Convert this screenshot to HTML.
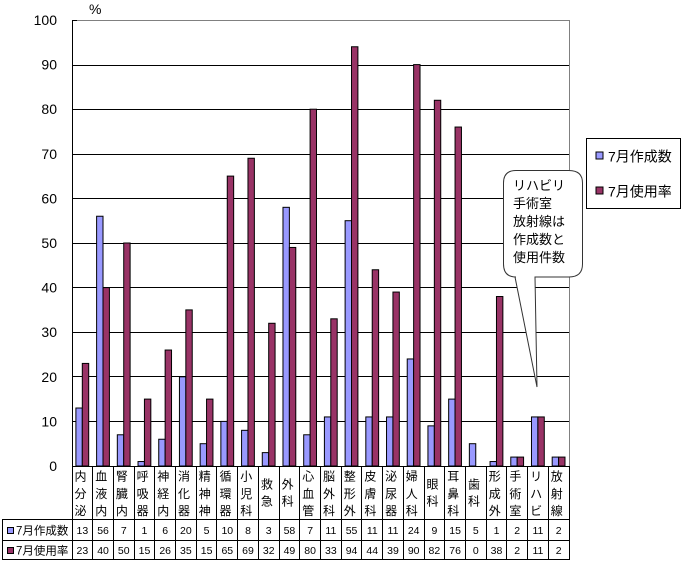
<!DOCTYPE html>
<html><head><meta charset="utf-8">
<style>
html,body{margin:0;padding:0;background:#fff;}
svg{display:block;}
text{font-family:"Liberation Sans","Noto Sans CJK JP",sans-serif;fill:#000;}
.yl{font-size:14px;text-anchor:end;}
.cl{font-size:12px;}
.nm{font-size:10.5px;text-anchor:middle;}
.b{fill:#9999FF;stroke:#000;stroke-width:1;}
.p{fill:#993366;stroke:#000;stroke-width:1;}
</style></head>
<body>
<svg width="682" height="562" viewBox="0 0 682 562" xmlns="http://www.w3.org/2000/svg">
<rect x="0" y="0" width="682" height="562" fill="#fff"/>
<!-- gridlines -->
<g stroke="#000" stroke-width="1">
<line x1="72" y1="421.5" x2="569" y2="421.5"/>
<line x1="72" y1="376.5" x2="569" y2="376.5"/>
<line x1="72" y1="332.5" x2="569" y2="332.5"/>
<line x1="72" y1="287.5" x2="569" y2="287.5"/>
<line x1="72" y1="243.5" x2="569" y2="243.5"/>
<line x1="72" y1="198.5" x2="569" y2="198.5"/>
<line x1="72" y1="154.5" x2="569" y2="154.5"/>
<line x1="72" y1="109.5" x2="569" y2="109.5"/>
<line x1="72" y1="65.5" x2="569" y2="65.5"/>
</g>
<line x1="72" y1="20.5" x2="569" y2="20.5" stroke="#808080" stroke-width="1"/>
<line x1="569.5" y1="20" x2="569.5" y2="466" stroke="#808080" stroke-width="1"/>
<line x1="72" y1="20.5" x2="77" y2="20.5" stroke="#000" stroke-width="1"/>
<!-- y labels -->
<text class="yl" x="57" y="25">100</text>
<text class="yl" x="57" y="69.6">90</text>
<text class="yl" x="57" y="114.2">80</text>
<text class="yl" x="57" y="158.8">70</text>
<text class="yl" x="57" y="203.4">60</text>
<text class="yl" x="57" y="248">50</text>
<text class="yl" x="57" y="292.6">40</text>
<text class="yl" x="57" y="337.2">30</text>
<text class="yl" x="57" y="381.8">20</text>
<text class="yl" x="57" y="426.4">10</text>
<text class="yl" x="57" y="471">0</text>
<text x="89" y="14" style="font-size:14px">%</text>

<!-- bars -->
<rect class="b" x="75.9" y="408.02" width="6.4" height="57.98"/><rect class="p" x="82.3" y="363.42" width="6.4" height="102.58"/>
<rect class="b" x="96.61" y="216.24" width="6.4" height="249.76"/><rect class="p" x="103.01" y="287.6" width="6.4" height="178.4"/>
<rect class="b" x="117.32" y="434.78" width="6.4" height="31.22"/><rect class="p" x="123.72" y="243" width="6.4" height="223"/>
<rect class="b" x="138.03" y="461.54" width="6.4" height="4.46"/><rect class="p" x="144.43" y="399.1" width="6.4" height="66.9"/>
<rect class="b" x="158.73" y="439.24" width="6.4" height="26.76"/><rect class="p" x="165.13" y="350.04" width="6.4" height="115.96"/>
<rect class="b" x="179.44" y="376.8" width="6.4" height="89.2"/><rect class="p" x="185.84" y="309.9" width="6.4" height="156.1"/>
<rect class="b" x="200.15" y="443.7" width="6.4" height="22.3"/><rect class="p" x="206.55" y="399.1" width="6.4" height="66.9"/>
<rect class="b" x="220.86" y="421.4" width="6.4" height="44.6"/><rect class="p" x="227.26" y="176.1" width="6.4" height="289.9"/>
<rect class="b" x="241.57" y="430.32" width="6.4" height="35.68"/><rect class="p" x="247.97" y="158.26" width="6.4" height="307.74"/>
<rect class="b" x="262.28" y="452.62" width="6.4" height="13.38"/><rect class="p" x="268.68" y="323.28" width="6.4" height="142.72"/>
<rect class="b" x="282.98" y="207.32" width="6.4" height="258.68"/><rect class="p" x="289.38" y="247.46" width="6.4" height="218.54"/>
<rect class="b" x="303.69" y="434.78" width="6.4" height="31.22"/><rect class="p" x="310.09" y="109.2" width="6.4" height="356.8"/>
<rect class="b" x="324.4" y="416.94" width="6.4" height="49.06"/><rect class="p" x="330.8" y="318.82" width="6.4" height="147.18"/>
<rect class="b" x="345.11" y="220.7" width="6.4" height="245.3"/><rect class="p" x="351.51" y="46.76" width="6.4" height="419.24"/>
<rect class="b" x="365.82" y="416.94" width="6.4" height="49.06"/><rect class="p" x="372.22" y="269.76" width="6.4" height="196.24"/>
<rect class="b" x="386.53" y="416.94" width="6.4" height="49.06"/><rect class="p" x="392.93" y="292.06" width="6.4" height="173.94"/>
<rect class="b" x="407.23" y="358.96" width="6.4" height="107.04"/><rect class="p" x="413.63" y="64.6" width="6.4" height="401.4"/>
<rect class="b" x="427.94" y="425.86" width="6.4" height="40.14"/><rect class="p" x="434.34" y="100.28" width="6.4" height="365.72"/>
<rect class="b" x="448.65" y="399.1" width="6.4" height="66.9"/><rect class="p" x="455.05" y="127.04" width="6.4" height="338.96"/>
<rect class="b" x="469.36" y="443.7" width="6.4" height="22.3"/>
<rect class="b" x="490.07" y="461.54" width="6.4" height="4.46"/><rect class="p" x="496.47" y="296.52" width="6.4" height="169.48"/>
<rect class="b" x="510.78" y="457.08" width="6.4" height="8.92"/><rect class="p" x="517.18" y="457.08" width="6.4" height="8.92"/>
<rect class="b" x="531.48" y="416.94" width="6.4" height="49.06"/><rect class="p" x="537.88" y="416.94" width="6.4" height="49.06"/>
<rect class="b" x="552.19" y="457.08" width="6.4" height="8.92"/><rect class="p" x="558.59" y="457.08" width="6.4" height="8.92"/>

<!-- axis and table lines -->
<g stroke="#000" stroke-width="1">
<line x1="72.5" y1="20" x2="72.5" y2="560"/>
<line x1="72" y1="466.5" x2="570" y2="466.5"/>
<line x1="2" y1="519.5" x2="570" y2="519.5"/>
<line x1="2" y1="540.5" x2="570" y2="540.5"/>
<line x1="2" y1="559.5" x2="570" y2="559.5"/>
<line x1="2.5" y1="519.5" x2="2.5" y2="560"/>
<line x1="92.5" y1="466" x2="92.5" y2="560"/>
<line x1="113.5" y1="466" x2="113.5" y2="560"/>
<line x1="134.5" y1="466" x2="134.5" y2="560"/>
<line x1="154.5" y1="466" x2="154.5" y2="560"/>
<line x1="175.5" y1="466" x2="175.5" y2="560"/>
<line x1="196.5" y1="466" x2="196.5" y2="560"/>
<line x1="216.5" y1="466" x2="216.5" y2="560"/>
<line x1="237.5" y1="466" x2="237.5" y2="560"/>
<line x1="258.5" y1="466" x2="258.5" y2="560"/>
<line x1="279.5" y1="466" x2="279.5" y2="560"/>
<line x1="299.5" y1="466" x2="299.5" y2="560"/>
<line x1="320.5" y1="466" x2="320.5" y2="560"/>
<line x1="341.5" y1="466" x2="341.5" y2="560"/>
<line x1="361.5" y1="466" x2="361.5" y2="560"/>
<line x1="382.5" y1="466" x2="382.5" y2="560"/>
<line x1="403.5" y1="466" x2="403.5" y2="560"/>
<line x1="424.5" y1="466" x2="424.5" y2="560"/>
<line x1="444.5" y1="466" x2="444.5" y2="560"/>
<line x1="465.5" y1="466" x2="465.5" y2="560"/>
<line x1="486.5" y1="466" x2="486.5" y2="560"/>
<line x1="506.5" y1="466" x2="506.5" y2="560"/>
<line x1="527.5" y1="466" x2="527.5" y2="560"/>
<line x1="548.5" y1="466" x2="548.5" y2="560"/>
<line x1="569.5" y1="466" x2="569.5" y2="560"/>
</g>

<!-- category labels -->
<g class="cl">
<text class="cl" x="74.5" y="480.5">内</text><text class="cl" x="74.5" y="498">分</text><text class="cl" x="74.5" y="515">泌</text>
<text class="cl" x="95.2" y="480.5">血</text><text class="cl" x="95.2" y="498">液</text><text class="cl" x="95.2" y="515">内</text>
<text class="cl" x="115.9" y="480.5">腎</text><text class="cl" x="115.9" y="498">臓</text><text class="cl" x="115.9" y="515">内</text>
<text class="cl" x="136.6" y="480.5">呼</text><text class="cl" x="136.6" y="498">吸</text><text class="cl" x="136.6" y="515">器</text>
<text class="cl" x="157.3" y="480.5">神</text><text class="cl" x="157.3" y="498">経</text><text class="cl" x="157.3" y="515">内</text>
<text class="cl" x="178.0" y="480.5">消</text><text class="cl" x="178.0" y="498">化</text><text class="cl" x="178.0" y="515">器</text>
<text class="cl" x="198.8" y="480.5">精</text><text class="cl" x="198.8" y="498">神</text><text class="cl" x="198.8" y="515">神</text>
<text class="cl" x="219.5" y="480.5">循</text><text class="cl" x="219.5" y="498">環</text><text class="cl" x="219.5" y="515">器</text>
<text class="cl" x="240.2" y="480.5">小</text><text class="cl" x="240.2" y="498">児</text><text class="cl" x="240.2" y="515">科</text>
<text class="cl" x="260.9" y="488.5">救</text><text class="cl" x="260.9" y="505.5">急</text>
<text class="cl" x="281.6" y="488.5">外</text><text class="cl" x="281.6" y="505.5">科</text>
<text class="cl" x="302.3" y="480.5">心</text><text class="cl" x="302.3" y="498">血</text><text class="cl" x="302.3" y="515">管</text>
<text class="cl" x="323.0" y="480.5">脳</text><text class="cl" x="323.0" y="498">外</text><text class="cl" x="323.0" y="515">科</text>
<text class="cl" x="343.7" y="480.5">整</text><text class="cl" x="343.7" y="498">形</text><text class="cl" x="343.7" y="515">外</text>
<text class="cl" x="364.4" y="480.5">皮</text><text class="cl" x="364.4" y="498">膚</text><text class="cl" x="364.4" y="515">科</text>
<text class="cl" x="385.1" y="480.5">泌</text><text class="cl" x="385.1" y="498">尿</text><text class="cl" x="385.1" y="515">器</text>
<text class="cl" x="405.8" y="480.5">婦</text><text class="cl" x="405.8" y="498">人</text><text class="cl" x="405.8" y="515">科</text>
<text class="cl" x="426.5" y="488.5">眼</text><text class="cl" x="426.5" y="505.5">科</text>
<text class="cl" x="447.3" y="480.5">耳</text><text class="cl" x="447.3" y="498">鼻</text><text class="cl" x="447.3" y="515">科</text>
<text class="cl" x="468.0" y="488.5">歯</text><text class="cl" x="468.0" y="505.5">科</text>
<text class="cl" x="488.7" y="480.5">形</text><text class="cl" x="488.7" y="498">成</text><text class="cl" x="488.7" y="515">外</text>
<text class="cl" x="509.4" y="480.5">手</text><text class="cl" x="509.4" y="498">術</text><text class="cl" x="509.4" y="515">室</text>
<text class="cl" x="530.1" y="480.5">リ</text><text class="cl" x="530.1" y="498">ハ</text><text class="cl" x="530.1" y="515">ビ</text>
<text class="cl" x="550.8" y="480.5">放</text><text class="cl" x="550.8" y="498">射</text><text class="cl" x="550.8" y="515">線</text>
</g>

<!-- table legend -->
<rect x="7.5" y="527.5" width="6" height="6" class="b"/>
<text x="16" y="534.5" style="font-size:11.5px">7月作成数</text>
<rect x="7.5" y="547.5" width="6" height="6" class="p"/>
<text x="16" y="554.5" style="font-size:11.5px">7月使用率</text>

<!-- table row 1 -->
<text class="nm" x="82.35" y="534">13</text>
<text class="nm" x="103.06" y="534">56</text>
<text class="nm" x="123.77" y="534">7</text>
<text class="nm" x="144.48" y="534">1</text>
<text class="nm" x="165.18" y="534">6</text>
<text class="nm" x="185.89" y="534">20</text>
<text class="nm" x="206.6" y="534">5</text>
<text class="nm" x="227.31" y="534">10</text>
<text class="nm" x="248.02" y="534">8</text>
<text class="nm" x="268.73" y="534">3</text>
<text class="nm" x="289.43" y="534">58</text>
<text class="nm" x="310.14" y="534">7</text>
<text class="nm" x="330.85" y="534">11</text>
<text class="nm" x="351.56" y="534">55</text>
<text class="nm" x="372.27" y="534">11</text>
<text class="nm" x="392.98" y="534">11</text>
<text class="nm" x="413.68" y="534">24</text>
<text class="nm" x="434.39" y="534">9</text>
<text class="nm" x="455.1" y="534">15</text>
<text class="nm" x="475.81" y="534">5</text>
<text class="nm" x="496.52" y="534">1</text>
<text class="nm" x="517.23" y="534">2</text>
<text class="nm" x="537.93" y="534">11</text>
<text class="nm" x="558.64" y="534">2</text>
<!-- table row 2 -->
<text class="nm" x="82.35" y="554">23</text>
<text class="nm" x="103.06" y="554">40</text>
<text class="nm" x="123.77" y="554">50</text>
<text class="nm" x="144.48" y="554">15</text>
<text class="nm" x="165.18" y="554">26</text>
<text class="nm" x="185.89" y="554">35</text>
<text class="nm" x="206.6" y="554">15</text>
<text class="nm" x="227.31" y="554">65</text>
<text class="nm" x="248.02" y="554">69</text>
<text class="nm" x="268.73" y="554">32</text>
<text class="nm" x="289.43" y="554">49</text>
<text class="nm" x="310.14" y="554">80</text>
<text class="nm" x="330.85" y="554">33</text>
<text class="nm" x="351.56" y="554">94</text>
<text class="nm" x="372.27" y="554">44</text>
<text class="nm" x="392.98" y="554">39</text>
<text class="nm" x="413.68" y="554">90</text>
<text class="nm" x="434.39" y="554">82</text>
<text class="nm" x="455.1" y="554">76</text>
<text class="nm" x="475.81" y="554">0</text>
<text class="nm" x="496.52" y="554">38</text>
<text class="nm" x="517.23" y="554">2</text>
<text class="nm" x="537.93" y="554">11</text>
<text class="nm" x="558.64" y="554">2</text>

<!-- callout -->
<path d="M516,170.5 H569 Q582.5,170.5 582.5,183 V264 Q582.5,277 569,277 H535 L537,387 L515,277 H516 Q503.5,277 503.5,264 V183 Q503.5,170.5 516,170.5 Z" fill="#fff" stroke="#333" stroke-width="1"/>
<g style="font-size:13px">
<text x="513" y="190">リハビリ</text>
<text x="513" y="208">手術室</text>
<text x="513" y="226">放射線は</text>
<text x="513" y="244">作成数と</text>
<text x="513" y="262">使用件数</text>
</g>

<!-- legend -->
<rect x="586.5" y="138.5" width="94" height="70" fill="#fff" stroke="#000" stroke-width="1"/>
<rect x="596" y="152" width="7" height="7" class="b"/>
<text x="608" y="161.5" style="font-size:14px">7月作成数</text>
<rect x="596" y="187" width="7" height="7" class="p"/>
<text x="608" y="196.5" style="font-size:14px">7月使用率</text>
</svg>
</body></html>
